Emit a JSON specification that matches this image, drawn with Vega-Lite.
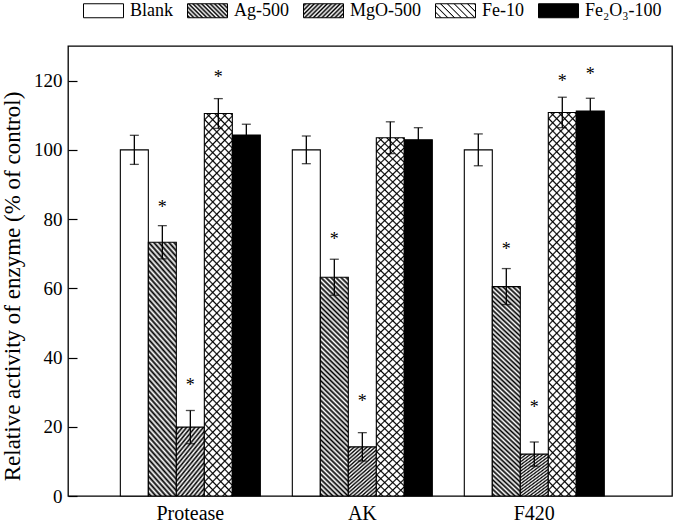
{
  "$schema": "https://vega.github.io/schema/vega-lite/v6.json",
  "autosize": {"type": "none"},
  "padding": {"left": 68, "top": 46, "right": 3, "bottom": 28},
  "width": 604,
  "height": 450,
  "background": "white",
  "config": {
    "font": "Liberation Serif, Times New Roman, DejaVu Serif, serif",
    "view": {"stroke": "#000", "strokeWidth": 1.3},
    "axis": {"labelColor": "#000", "titleColor": "#000", "labelFont": "Liberation Serif, Times New Roman, DejaVu Serif, serif", "titleFont": "Liberation Serif, Times New Roman, DejaVu Serif, serif", "titleFontWeight": "normal", "grid": false},
    "legend": {"labelFont": "Liberation Serif, Times New Roman, DejaVu Serif, serif"}
  },
  "data": {"values": [
    {"e": "Protease", "s": "Blank", "v": 100, "lo": 95.8, "hi": 104.2, "star": null},
    {"e": "Protease", "s": "Ag-500", "v": 73.3, "lo": 68.5, "hi": 78.1, "star": 84.5},
    {"e": "Protease", "s": "MgO-500", "v": 19.9, "lo": 15.1, "hi": 24.7, "star": 32.9},
    {"e": "Protease", "s": "Fe-10", "v": 110.5, "lo": 106.2, "hi": 114.8, "star": 121.8},
    {"e": "Protease", "s": "Fe₂O₃-100", "v": 104.3, "lo": 101.2, "hi": 107.4, "star": null},
    {"e": "AK", "s": "Blank", "v": 100, "lo": 96, "hi": 104, "star": null},
    {"e": "AK", "s": "Ag-500", "v": 63.2, "lo": 58.0, "hi": 68.4, "star": 75.1},
    {"e": "AK", "s": "MgO-500", "v": 14.2, "lo": 10.1, "hi": 18.3, "star": 28.4},
    {"e": "AK", "s": "Fe-10", "v": 103.5, "lo": 98.9, "hi": 108.1, "star": null},
    {"e": "AK", "s": "Fe₂O₃-100", "v": 102.9, "lo": 99.4, "hi": 106.4, "star": null},
    {"e": "F420", "s": "Blank", "v": 100, "lo": 95.4, "hi": 104.6, "star": null},
    {"e": "F420", "s": "Ag-500", "v": 60.5, "lo": 55.3, "hi": 65.7, "star": 72.2},
    {"e": "F420", "s": "MgO-500", "v": 12.1, "lo": 8.6, "hi": 15.6, "star": 26.6},
    {"e": "F420", "s": "Fe-10", "v": 110.8, "lo": 106.4, "hi": 115.2, "star": 120.8},
    {"e": "F420", "s": "Fe₂O₃-100", "v": 111.2, "lo": 107.5, "hi": 114.9, "star": 122.7}
  ]},
  "encoding": {
    "x": {"field": "e", "type": "nominal", "sort": ["Protease", "AK", "F420"],
      "scale": {"paddingInner": 0.186, "paddingOuter": 0.349, "align": 0.436},
      "axis": {"title": null, "labelAngle": 0, "labelFontSize": 20, "ticks": false, "domain": false, "labelPadding": 7}},
    "xOffset": {"field": "s", "type": "nominal", "scale": {"domain": ["Blank", "Ag-500", "MgO-500", "Fe-10", "Fe₂O₃-100"], "padding": 0}}
  },
  "layer": [
    {
      "mark": {"type": "bar", "stroke": "#000", "strokeWidth": 1.1},
      "encoding": {
        "y": {"field": "v", "type": "quantitative",
          "scale": {"domain": [0, 130], "nice": false, "zero": true},
          "axis": {"title": "Relative activity of enzyme (% of control)", "titleFontSize": 23, "titleX": -49, "titleY": 240, "titleAngle": -90, "titleBaseline": "alphabetic", "titleAlign": "center",
            "values": [0, 20, 40, 60, 80, 100, 120], "labelFontSize": 19, "tickSize": -9, "tickWidth": 1.2, "tickColor": "#000", "labelPadding": 15, "domain": false}},
        "fill": {
          "condition": [
            {"test": "datum.s == 'Ag-500'", "value":
              {"gradient": "linear", "x1": 0, "y1": 1, "x2": 0.1385, "y2": -0.1077, "stops": [
                {"offset":0,"color":"#fff"},{"offset":0.01,"color":"#000"},{"offset":0.02,"color":"#fff"},{"offset":0.03,"color":"#000"},{"offset":0.04,"color":"#fff"},{"offset":0.05,"color":"#000"},{"offset":0.06,"color":"#fff"},{"offset":0.07,"color":"#000"},{"offset":0.08,"color":"#fff"},{"offset":0.09,"color":"#000"},
                {"offset":0.1,"color":"#fff"},{"offset":0.11,"color":"#000"},{"offset":0.12,"color":"#fff"},{"offset":0.13,"color":"#000"},{"offset":0.14,"color":"#fff"},{"offset":0.15,"color":"#000"},{"offset":0.16,"color":"#fff"},{"offset":0.17,"color":"#000"},{"offset":0.18,"color":"#fff"},{"offset":0.19,"color":"#000"},
                {"offset":0.2,"color":"#fff"},{"offset":0.21,"color":"#000"},{"offset":0.22,"color":"#fff"},{"offset":0.23,"color":"#000"},{"offset":0.24,"color":"#fff"},{"offset":0.25,"color":"#000"},{"offset":0.26,"color":"#fff"},{"offset":0.27,"color":"#000"},{"offset":0.28,"color":"#fff"},{"offset":0.29,"color":"#000"},
                {"offset":0.3,"color":"#fff"},{"offset":0.31,"color":"#000"},{"offset":0.32,"color":"#fff"},{"offset":0.33,"color":"#000"},{"offset":0.34,"color":"#fff"},{"offset":0.35,"color":"#000"},{"offset":0.36,"color":"#fff"},{"offset":0.37,"color":"#000"},{"offset":0.38,"color":"#fff"},{"offset":0.39,"color":"#000"},
                {"offset":0.4,"color":"#fff"},{"offset":0.41,"color":"#000"},{"offset":0.42,"color":"#fff"},{"offset":0.43,"color":"#000"},{"offset":0.44,"color":"#fff"},{"offset":0.45,"color":"#000"},{"offset":0.46,"color":"#fff"},{"offset":0.47,"color":"#000"},{"offset":0.48,"color":"#fff"},{"offset":0.49,"color":"#000"},
                {"offset":0.5,"color":"#fff"},{"offset":0.51,"color":"#000"},{"offset":0.52,"color":"#fff"},{"offset":0.53,"color":"#000"},{"offset":0.54,"color":"#fff"},{"offset":0.55,"color":"#000"},{"offset":0.56,"color":"#fff"},{"offset":0.57,"color":"#000"},{"offset":0.58,"color":"#fff"},{"offset":0.59,"color":"#000"},
                {"offset":0.6,"color":"#fff"},{"offset":0.61,"color":"#000"},{"offset":0.62,"color":"#fff"},{"offset":0.63,"color":"#000"},{"offset":0.64,"color":"#fff"},{"offset":0.65,"color":"#000"},{"offset":0.66,"color":"#fff"},{"offset":0.67,"color":"#000"},{"offset":0.68,"color":"#fff"},{"offset":0.69,"color":"#000"},
                {"offset":0.7,"color":"#fff"},{"offset":0.71,"color":"#000"},{"offset":0.72,"color":"#fff"},{"offset":0.73,"color":"#000"},{"offset":0.74,"color":"#fff"},{"offset":0.75,"color":"#000"},{"offset":0.76,"color":"#fff"},{"offset":0.77,"color":"#000"},{"offset":0.78,"color":"#fff"},{"offset":0.79,"color":"#000"},
                {"offset":0.8,"color":"#fff"},{"offset":0.81,"color":"#000"},{"offset":0.82,"color":"#fff"},{"offset":0.83,"color":"#000"},{"offset":0.84,"color":"#fff"},{"offset":0.85,"color":"#000"},{"offset":0.86,"color":"#fff"},{"offset":0.87,"color":"#000"},{"offset":0.88,"color":"#fff"},{"offset":0.89,"color":"#000"},
                {"offset":0.9,"color":"#fff"},{"offset":0.91,"color":"#000"},{"offset":0.92,"color":"#fff"},{"offset":0.93,"color":"#000"},{"offset":0.94,"color":"#fff"},{"offset":0.95,"color":"#000"},{"offset":0.96,"color":"#fff"},{"offset":0.97,"color":"#000"},{"offset":0.98,"color":"#fff"},{"offset":0.99,"color":"#000"},
                {"offset":1,"color":"#fff"}]}},
            {"test": "datum.s == 'MgO-500'", "value":
              {"gradient": "linear", "x1": 0, "y1": 0, "x2": 0.6, "y2": 1.2, "stops": [
                {"offset":0,"color":"#fff"},{"offset":0.025,"color":"#000"},{"offset":0.05,"color":"#fff"},{"offset":0.075,"color":"#000"},{"offset":0.1,"color":"#fff"},{"offset":0.125,"color":"#000"},{"offset":0.15,"color":"#fff"},{"offset":0.175,"color":"#000"},{"offset":0.2,"color":"#fff"},{"offset":0.225,"color":"#000"},
                {"offset":0.25,"color":"#fff"},{"offset":0.275,"color":"#000"},{"offset":0.3,"color":"#fff"},{"offset":0.325,"color":"#000"},{"offset":0.35,"color":"#fff"},{"offset":0.375,"color":"#000"},{"offset":0.4,"color":"#fff"},{"offset":0.425,"color":"#000"},{"offset":0.45,"color":"#fff"},{"offset":0.475,"color":"#000"},
                {"offset":0.5,"color":"#fff"},{"offset":0.525,"color":"#000"},{"offset":0.55,"color":"#fff"},{"offset":0.575,"color":"#000"},{"offset":0.6,"color":"#fff"},{"offset":0.625,"color":"#000"},{"offset":0.65,"color":"#fff"},{"offset":0.675,"color":"#000"},{"offset":0.7,"color":"#fff"},{"offset":0.725,"color":"#000"},
                {"offset":0.75,"color":"#fff"},{"offset":0.775,"color":"#000"},{"offset":0.8,"color":"#fff"},{"offset":0.825,"color":"#000"},{"offset":0.85,"color":"#fff"},{"offset":0.875,"color":"#000"},{"offset":0.9,"color":"#fff"},{"offset":0.925,"color":"#000"},{"offset":0.95,"color":"#fff"},{"offset":0.975,"color":"#000"},
                {"offset":1,"color":"#fff"}]}},
            {"test": "datum.s == 'Fe₂O₃-100'", "value": "#000"}
          ],
          "value": "#fff"
        }
      }
    },
    {
      "transform": [{"filter": "datum.s == 'Fe-10'"}],
      "mark": {"type": "bar", "strokeWidth": 0, "fill": {"gradient": "linear", "x1": 0, "y1": 1, "x2": 0.0804, "y2": -0.0692, "stops": [
        {"offset":0,"color":"rgba(0,0,0,0)"},{"offset":0.012,"color":"rgba(0,0,0,0)"},{"offset":0.016,"color":"#000"},
        {"offset":0.02,"color":"rgba(0,0,0,0)"},{"offset":0.032,"color":"rgba(0,0,0,0)"},{"offset":0.036,"color":"#000"},
        {"offset":0.04,"color":"rgba(0,0,0,0)"},{"offset":0.052,"color":"rgba(0,0,0,0)"},{"offset":0.056,"color":"#000"},
        {"offset":0.06,"color":"rgba(0,0,0,0)"},{"offset":0.072,"color":"rgba(0,0,0,0)"},{"offset":0.076,"color":"#000"},
        {"offset":0.08,"color":"rgba(0,0,0,0)"},{"offset":0.092,"color":"rgba(0,0,0,0)"},{"offset":0.096,"color":"#000"},
        {"offset":0.1,"color":"rgba(0,0,0,0)"},{"offset":0.112,"color":"rgba(0,0,0,0)"},{"offset":0.116,"color":"#000"},
        {"offset":0.12,"color":"rgba(0,0,0,0)"},{"offset":0.132,"color":"rgba(0,0,0,0)"},{"offset":0.136,"color":"#000"},
        {"offset":0.14,"color":"rgba(0,0,0,0)"},{"offset":0.152,"color":"rgba(0,0,0,0)"},{"offset":0.156,"color":"#000"},
        {"offset":0.16,"color":"rgba(0,0,0,0)"},{"offset":0.172,"color":"rgba(0,0,0,0)"},{"offset":0.176,"color":"#000"},
        {"offset":0.18,"color":"rgba(0,0,0,0)"},{"offset":0.192,"color":"rgba(0,0,0,0)"},{"offset":0.196,"color":"#000"},
        {"offset":0.2,"color":"rgba(0,0,0,0)"},{"offset":0.212,"color":"rgba(0,0,0,0)"},{"offset":0.216,"color":"#000"},
        {"offset":0.22,"color":"rgba(0,0,0,0)"},{"offset":0.232,"color":"rgba(0,0,0,0)"},{"offset":0.236,"color":"#000"},
        {"offset":0.24,"color":"rgba(0,0,0,0)"},{"offset":0.252,"color":"rgba(0,0,0,0)"},{"offset":0.256,"color":"#000"},
        {"offset":0.26,"color":"rgba(0,0,0,0)"},{"offset":0.272,"color":"rgba(0,0,0,0)"},{"offset":0.276,"color":"#000"},
        {"offset":0.28,"color":"rgba(0,0,0,0)"},{"offset":0.292,"color":"rgba(0,0,0,0)"},{"offset":0.296,"color":"#000"},
        {"offset":0.3,"color":"rgba(0,0,0,0)"},{"offset":0.312,"color":"rgba(0,0,0,0)"},{"offset":0.316,"color":"#000"},
        {"offset":0.32,"color":"rgba(0,0,0,0)"},{"offset":0.332,"color":"rgba(0,0,0,0)"},{"offset":0.336,"color":"#000"},
        {"offset":0.34,"color":"rgba(0,0,0,0)"},{"offset":0.352,"color":"rgba(0,0,0,0)"},{"offset":0.356,"color":"#000"},
        {"offset":0.36,"color":"rgba(0,0,0,0)"},{"offset":0.372,"color":"rgba(0,0,0,0)"},{"offset":0.376,"color":"#000"},
        {"offset":0.38,"color":"rgba(0,0,0,0)"},{"offset":0.392,"color":"rgba(0,0,0,0)"},{"offset":0.396,"color":"#000"},
        {"offset":0.4,"color":"rgba(0,0,0,0)"},{"offset":0.412,"color":"rgba(0,0,0,0)"},{"offset":0.416,"color":"#000"},
        {"offset":0.42,"color":"rgba(0,0,0,0)"},{"offset":0.432,"color":"rgba(0,0,0,0)"},{"offset":0.436,"color":"#000"},
        {"offset":0.44,"color":"rgba(0,0,0,0)"},{"offset":0.452,"color":"rgba(0,0,0,0)"},{"offset":0.456,"color":"#000"},
        {"offset":0.46,"color":"rgba(0,0,0,0)"},{"offset":0.472,"color":"rgba(0,0,0,0)"},{"offset":0.476,"color":"#000"},
        {"offset":0.48,"color":"rgba(0,0,0,0)"},{"offset":0.492,"color":"rgba(0,0,0,0)"},{"offset":0.496,"color":"#000"},
        {"offset":0.5,"color":"rgba(0,0,0,0)"},{"offset":0.512,"color":"rgba(0,0,0,0)"},{"offset":0.516,"color":"#000"},
        {"offset":0.52,"color":"rgba(0,0,0,0)"},{"offset":0.532,"color":"rgba(0,0,0,0)"},{"offset":0.536,"color":"#000"},
        {"offset":0.54,"color":"rgba(0,0,0,0)"},{"offset":0.552,"color":"rgba(0,0,0,0)"},{"offset":0.556,"color":"#000"},
        {"offset":0.56,"color":"rgba(0,0,0,0)"},{"offset":0.572,"color":"rgba(0,0,0,0)"},{"offset":0.576,"color":"#000"},
        {"offset":0.58,"color":"rgba(0,0,0,0)"},{"offset":0.592,"color":"rgba(0,0,0,0)"},{"offset":0.596,"color":"#000"},
        {"offset":0.6,"color":"rgba(0,0,0,0)"},{"offset":0.612,"color":"rgba(0,0,0,0)"},{"offset":0.616,"color":"#000"},
        {"offset":0.62,"color":"rgba(0,0,0,0)"},{"offset":0.632,"color":"rgba(0,0,0,0)"},{"offset":0.636,"color":"#000"},
        {"offset":0.64,"color":"rgba(0,0,0,0)"},{"offset":0.652,"color":"rgba(0,0,0,0)"},{"offset":0.656,"color":"#000"},
        {"offset":0.66,"color":"rgba(0,0,0,0)"},{"offset":0.672,"color":"rgba(0,0,0,0)"},{"offset":0.676,"color":"#000"},
        {"offset":0.68,"color":"rgba(0,0,0,0)"},{"offset":0.692,"color":"rgba(0,0,0,0)"},{"offset":0.696,"color":"#000"},
        {"offset":0.7,"color":"rgba(0,0,0,0)"},{"offset":0.712,"color":"rgba(0,0,0,0)"},{"offset":0.716,"color":"#000"},
        {"offset":0.72,"color":"rgba(0,0,0,0)"},{"offset":0.732,"color":"rgba(0,0,0,0)"},{"offset":0.736,"color":"#000"},
        {"offset":0.74,"color":"rgba(0,0,0,0)"},{"offset":0.752,"color":"rgba(0,0,0,0)"},{"offset":0.756,"color":"#000"},
        {"offset":0.76,"color":"rgba(0,0,0,0)"},{"offset":0.772,"color":"rgba(0,0,0,0)"},{"offset":0.776,"color":"#000"},
        {"offset":0.78,"color":"rgba(0,0,0,0)"},{"offset":0.792,"color":"rgba(0,0,0,0)"},{"offset":0.796,"color":"#000"},
        {"offset":0.8,"color":"rgba(0,0,0,0)"},{"offset":0.812,"color":"rgba(0,0,0,0)"},{"offset":0.816,"color":"#000"},
        {"offset":0.82,"color":"rgba(0,0,0,0)"},{"offset":0.832,"color":"rgba(0,0,0,0)"},{"offset":0.836,"color":"#000"},
        {"offset":0.84,"color":"rgba(0,0,0,0)"},{"offset":0.852,"color":"rgba(0,0,0,0)"},{"offset":0.856,"color":"#000"},
        {"offset":0.86,"color":"rgba(0,0,0,0)"},{"offset":0.872,"color":"rgba(0,0,0,0)"},{"offset":0.876,"color":"#000"},
        {"offset":0.88,"color":"rgba(0,0,0,0)"},{"offset":0.892,"color":"rgba(0,0,0,0)"},{"offset":0.896,"color":"#000"},
        {"offset":0.9,"color":"rgba(0,0,0,0)"},{"offset":0.912,"color":"rgba(0,0,0,0)"},{"offset":0.916,"color":"#000"},
        {"offset":0.92,"color":"rgba(0,0,0,0)"},{"offset":0.932,"color":"rgba(0,0,0,0)"},{"offset":0.936,"color":"#000"},
        {"offset":0.94,"color":"rgba(0,0,0,0)"},{"offset":0.952,"color":"rgba(0,0,0,0)"},{"offset":0.956,"color":"#000"},
        {"offset":0.96,"color":"rgba(0,0,0,0)"},{"offset":0.972,"color":"rgba(0,0,0,0)"},{"offset":0.976,"color":"#000"},
        {"offset":0.98,"color":"rgba(0,0,0,0)"},{"offset":0.992,"color":"rgba(0,0,0,0)"},{"offset":0.996,"color":"#000"},
        {"offset":1,"color":"rgba(0,0,0,0)"}]}},
      "encoding": {"y": {"field": "v", "type": "quantitative"}}
    },
    {
      "transform": [{"filter": "datum.s == 'Fe-10'"}],
      "mark": {"type": "bar", "strokeWidth": 0, "fill": {"gradient": "linear", "x1": 0, "y1": 0, "x2": 0.0804, "y2": 1.0692, "stops": [
        {"offset":0,"color":"rgba(0,0,0,0)"},{"offset":0.012,"color":"rgba(0,0,0,0)"},{"offset":0.016,"color":"#000"},
        {"offset":0.02,"color":"rgba(0,0,0,0)"},{"offset":0.032,"color":"rgba(0,0,0,0)"},{"offset":0.036,"color":"#000"},
        {"offset":0.04,"color":"rgba(0,0,0,0)"},{"offset":0.052,"color":"rgba(0,0,0,0)"},{"offset":0.056,"color":"#000"},
        {"offset":0.06,"color":"rgba(0,0,0,0)"},{"offset":0.072,"color":"rgba(0,0,0,0)"},{"offset":0.076,"color":"#000"},
        {"offset":0.08,"color":"rgba(0,0,0,0)"},{"offset":0.092,"color":"rgba(0,0,0,0)"},{"offset":0.096,"color":"#000"},
        {"offset":0.1,"color":"rgba(0,0,0,0)"},{"offset":0.112,"color":"rgba(0,0,0,0)"},{"offset":0.116,"color":"#000"},
        {"offset":0.12,"color":"rgba(0,0,0,0)"},{"offset":0.132,"color":"rgba(0,0,0,0)"},{"offset":0.136,"color":"#000"},
        {"offset":0.14,"color":"rgba(0,0,0,0)"},{"offset":0.152,"color":"rgba(0,0,0,0)"},{"offset":0.156,"color":"#000"},
        {"offset":0.16,"color":"rgba(0,0,0,0)"},{"offset":0.172,"color":"rgba(0,0,0,0)"},{"offset":0.176,"color":"#000"},
        {"offset":0.18,"color":"rgba(0,0,0,0)"},{"offset":0.192,"color":"rgba(0,0,0,0)"},{"offset":0.196,"color":"#000"},
        {"offset":0.2,"color":"rgba(0,0,0,0)"},{"offset":0.212,"color":"rgba(0,0,0,0)"},{"offset":0.216,"color":"#000"},
        {"offset":0.22,"color":"rgba(0,0,0,0)"},{"offset":0.232,"color":"rgba(0,0,0,0)"},{"offset":0.236,"color":"#000"},
        {"offset":0.24,"color":"rgba(0,0,0,0)"},{"offset":0.252,"color":"rgba(0,0,0,0)"},{"offset":0.256,"color":"#000"},
        {"offset":0.26,"color":"rgba(0,0,0,0)"},{"offset":0.272,"color":"rgba(0,0,0,0)"},{"offset":0.276,"color":"#000"},
        {"offset":0.28,"color":"rgba(0,0,0,0)"},{"offset":0.292,"color":"rgba(0,0,0,0)"},{"offset":0.296,"color":"#000"},
        {"offset":0.3,"color":"rgba(0,0,0,0)"},{"offset":0.312,"color":"rgba(0,0,0,0)"},{"offset":0.316,"color":"#000"},
        {"offset":0.32,"color":"rgba(0,0,0,0)"},{"offset":0.332,"color":"rgba(0,0,0,0)"},{"offset":0.336,"color":"#000"},
        {"offset":0.34,"color":"rgba(0,0,0,0)"},{"offset":0.352,"color":"rgba(0,0,0,0)"},{"offset":0.356,"color":"#000"},
        {"offset":0.36,"color":"rgba(0,0,0,0)"},{"offset":0.372,"color":"rgba(0,0,0,0)"},{"offset":0.376,"color":"#000"},
        {"offset":0.38,"color":"rgba(0,0,0,0)"},{"offset":0.392,"color":"rgba(0,0,0,0)"},{"offset":0.396,"color":"#000"},
        {"offset":0.4,"color":"rgba(0,0,0,0)"},{"offset":0.412,"color":"rgba(0,0,0,0)"},{"offset":0.416,"color":"#000"},
        {"offset":0.42,"color":"rgba(0,0,0,0)"},{"offset":0.432,"color":"rgba(0,0,0,0)"},{"offset":0.436,"color":"#000"},
        {"offset":0.44,"color":"rgba(0,0,0,0)"},{"offset":0.452,"color":"rgba(0,0,0,0)"},{"offset":0.456,"color":"#000"},
        {"offset":0.46,"color":"rgba(0,0,0,0)"},{"offset":0.472,"color":"rgba(0,0,0,0)"},{"offset":0.476,"color":"#000"},
        {"offset":0.48,"color":"rgba(0,0,0,0)"},{"offset":0.492,"color":"rgba(0,0,0,0)"},{"offset":0.496,"color":"#000"},
        {"offset":0.5,"color":"rgba(0,0,0,0)"},{"offset":0.512,"color":"rgba(0,0,0,0)"},{"offset":0.516,"color":"#000"},
        {"offset":0.52,"color":"rgba(0,0,0,0)"},{"offset":0.532,"color":"rgba(0,0,0,0)"},{"offset":0.536,"color":"#000"},
        {"offset":0.54,"color":"rgba(0,0,0,0)"},{"offset":0.552,"color":"rgba(0,0,0,0)"},{"offset":0.556,"color":"#000"},
        {"offset":0.56,"color":"rgba(0,0,0,0)"},{"offset":0.572,"color":"rgba(0,0,0,0)"},{"offset":0.576,"color":"#000"},
        {"offset":0.58,"color":"rgba(0,0,0,0)"},{"offset":0.592,"color":"rgba(0,0,0,0)"},{"offset":0.596,"color":"#000"},
        {"offset":0.6,"color":"rgba(0,0,0,0)"},{"offset":0.612,"color":"rgba(0,0,0,0)"},{"offset":0.616,"color":"#000"},
        {"offset":0.62,"color":"rgba(0,0,0,0)"},{"offset":0.632,"color":"rgba(0,0,0,0)"},{"offset":0.636,"color":"#000"},
        {"offset":0.64,"color":"rgba(0,0,0,0)"},{"offset":0.652,"color":"rgba(0,0,0,0)"},{"offset":0.656,"color":"#000"},
        {"offset":0.66,"color":"rgba(0,0,0,0)"},{"offset":0.672,"color":"rgba(0,0,0,0)"},{"offset":0.676,"color":"#000"},
        {"offset":0.68,"color":"rgba(0,0,0,0)"},{"offset":0.692,"color":"rgba(0,0,0,0)"},{"offset":0.696,"color":"#000"},
        {"offset":0.7,"color":"rgba(0,0,0,0)"},{"offset":0.712,"color":"rgba(0,0,0,0)"},{"offset":0.716,"color":"#000"},
        {"offset":0.72,"color":"rgba(0,0,0,0)"},{"offset":0.732,"color":"rgba(0,0,0,0)"},{"offset":0.736,"color":"#000"},
        {"offset":0.74,"color":"rgba(0,0,0,0)"},{"offset":0.752,"color":"rgba(0,0,0,0)"},{"offset":0.756,"color":"#000"},
        {"offset":0.76,"color":"rgba(0,0,0,0)"},{"offset":0.772,"color":"rgba(0,0,0,0)"},{"offset":0.776,"color":"#000"},
        {"offset":0.78,"color":"rgba(0,0,0,0)"},{"offset":0.792,"color":"rgba(0,0,0,0)"},{"offset":0.796,"color":"#000"},
        {"offset":0.8,"color":"rgba(0,0,0,0)"},{"offset":0.812,"color":"rgba(0,0,0,0)"},{"offset":0.816,"color":"#000"},
        {"offset":0.82,"color":"rgba(0,0,0,0)"},{"offset":0.832,"color":"rgba(0,0,0,0)"},{"offset":0.836,"color":"#000"},
        {"offset":0.84,"color":"rgba(0,0,0,0)"},{"offset":0.852,"color":"rgba(0,0,0,0)"},{"offset":0.856,"color":"#000"},
        {"offset":0.86,"color":"rgba(0,0,0,0)"},{"offset":0.872,"color":"rgba(0,0,0,0)"},{"offset":0.876,"color":"#000"},
        {"offset":0.88,"color":"rgba(0,0,0,0)"},{"offset":0.892,"color":"rgba(0,0,0,0)"},{"offset":0.896,"color":"#000"},
        {"offset":0.9,"color":"rgba(0,0,0,0)"},{"offset":0.912,"color":"rgba(0,0,0,0)"},{"offset":0.916,"color":"#000"},
        {"offset":0.92,"color":"rgba(0,0,0,0)"},{"offset":0.932,"color":"rgba(0,0,0,0)"},{"offset":0.936,"color":"#000"},
        {"offset":0.94,"color":"rgba(0,0,0,0)"},{"offset":0.952,"color":"rgba(0,0,0,0)"},{"offset":0.956,"color":"#000"},
        {"offset":0.96,"color":"rgba(0,0,0,0)"},{"offset":0.972,"color":"rgba(0,0,0,0)"},{"offset":0.976,"color":"#000"},
        {"offset":0.98,"color":"rgba(0,0,0,0)"},{"offset":0.992,"color":"rgba(0,0,0,0)"},{"offset":0.996,"color":"#000"},
        {"offset":1,"color":"rgba(0,0,0,0)"}]}},
      "encoding": {"y": {"field": "v", "type": "quantitative"}}
    },
    {
      "mark": {"type": "rule", "color": "#000", "strokeWidth": 1.3},
      "encoding": {"y": {"field": "lo", "type": "quantitative"}, "y2": {"field": "hi"}}
    },
    {
      "mark": {"type": "tick", "color": "#000", "size": 9, "thickness": 1.3, "orient": "horizontal"},
      "encoding": {"y": {"field": "hi", "type": "quantitative"}}
    },
    {
      "mark": {"type": "tick", "color": "#000", "size": 9, "thickness": 1.3, "orient": "horizontal"},
      "encoding": {"y": {"field": "lo", "type": "quantitative"}}
    },
    {
      "transform": [{"filter": "datum.star != null"}],
      "mark": {"type": "text", "text": "*", "fontSize": 18, "font": "Liberation Serif, Times New Roman, DejaVu Serif, serif", "color": "#000", "baseline": "alphabetic", "dy": 9},
      "encoding": {"y": {"field": "star", "type": "quantitative"}}
    },
    {
      "transform": [{"filter": "false"}],
      "mark": {"type": "point", "filled": true, "opacity": 1, "stroke": "#000", "strokeWidth": 1, "shape": "M-1,-0.35H1V0.35H-1Z"},
      "encoding": {
        "y": {"field": "v", "type": "quantitative"},
        "fill": {"field": "s", "type": "nominal",
          "scale": {"domain": ["Blank", "Ag-500", "MgO-500", "Fe-10", "Fe₂O₃-100"], "range": [
            "#fff",
            {"expr": "{gradient:'linear',x1:0,y1:1,x2:1.2027,y2:0.579,stops:[{offset:0,color:'#fff'},{offset:0.04,color:'#000'},{offset:0.08,color:'#fff'},{offset:0.12,color:'#000'},{offset:0.16,color:'#fff'},{offset:0.2,color:'#000'},{offset:0.24,color:'#fff'},{offset:0.28,color:'#000'},{offset:0.32,color:'#fff'},{offset:0.36,color:'#000'},{offset:0.4,color:'#fff'},{offset:0.44,color:'#000'},{offset:0.48,color:'#fff'},{offset:0.52,color:'#000'},{offset:0.56,color:'#fff'},{offset:0.6,color:'#000'},{offset:0.64,color:'#fff'},{offset:0.68,color:'#000'},{offset:0.72,color:'#fff'},{offset:0.76,color:'#000'},{offset:0.8,color:'#fff'},{offset:0.84,color:'#000'},{offset:0.88,color:'#fff'},{offset:0.92,color:'#000'},{offset:0.96,color:'#fff'},{offset:1,color:'#000'}]}"},
            {"expr": "{gradient:'linear',x1:0,y1:0,x2:1.2027,y2:0.4209,stops:[{offset:0,color:'#fff'},{offset:0.04,color:'#000'},{offset:0.08,color:'#fff'},{offset:0.12,color:'#000'},{offset:0.16,color:'#fff'},{offset:0.2,color:'#000'},{offset:0.24,color:'#fff'},{offset:0.28,color:'#000'},{offset:0.32,color:'#fff'},{offset:0.36,color:'#000'},{offset:0.4,color:'#fff'},{offset:0.44,color:'#000'},{offset:0.48,color:'#fff'},{offset:0.52,color:'#000'},{offset:0.56,color:'#fff'},{offset:0.6,color:'#000'},{offset:0.64,color:'#fff'},{offset:0.68,color:'#000'},{offset:0.72,color:'#fff'},{offset:0.76,color:'#000'},{offset:0.8,color:'#fff'},{offset:0.84,color:'#000'},{offset:0.88,color:'#fff'},{offset:0.92,color:'#000'},{offset:0.96,color:'#fff'},{offset:1,color:'#000'}]}"},
            {"expr": "{gradient:'linear',x1:0,y1:1,x2:1.2027,y2:0.579,stops:[{offset:0,color:'#fff'},{offset:0.08,color:'#fff'},{offset:0.105,color:'#000'},{offset:0.125,color:'#fff'},{offset:0.205,color:'#fff'},{offset:0.23,color:'#000'},{offset:0.25,color:'#fff'},{offset:0.33,color:'#fff'},{offset:0.355,color:'#000'},{offset:0.375,color:'#fff'},{offset:0.455,color:'#fff'},{offset:0.48,color:'#000'},{offset:0.5,color:'#fff'},{offset:0.58,color:'#fff'},{offset:0.605,color:'#000'},{offset:0.625,color:'#fff'},{offset:0.705,color:'#fff'},{offset:0.73,color:'#000'},{offset:0.75,color:'#fff'},{offset:0.83,color:'#fff'},{offset:0.855,color:'#000'},{offset:0.875,color:'#fff'},{offset:0.955,color:'#fff'},{offset:0.98,color:'#000'},{offset:1,color:'#fff'}]}"},
            "#000"]},
          "legend": {
            "orient": "none", "legendX": 15, "legendY": -56, "direction": "horizontal", "title": null,
            "symbolType": "M-1,-0.35H1V0.35H-1Z", "symbolSize": 1600, "symbolStrokeColor": "#000", "symbolStrokeWidth": 1, "symbolOpacity": 1,
            "labelFontSize": 18, "labelColor": "#000", "labelOffset": 6, "columnPadding": 12
          }
        }
      }
    }
  ]
}
